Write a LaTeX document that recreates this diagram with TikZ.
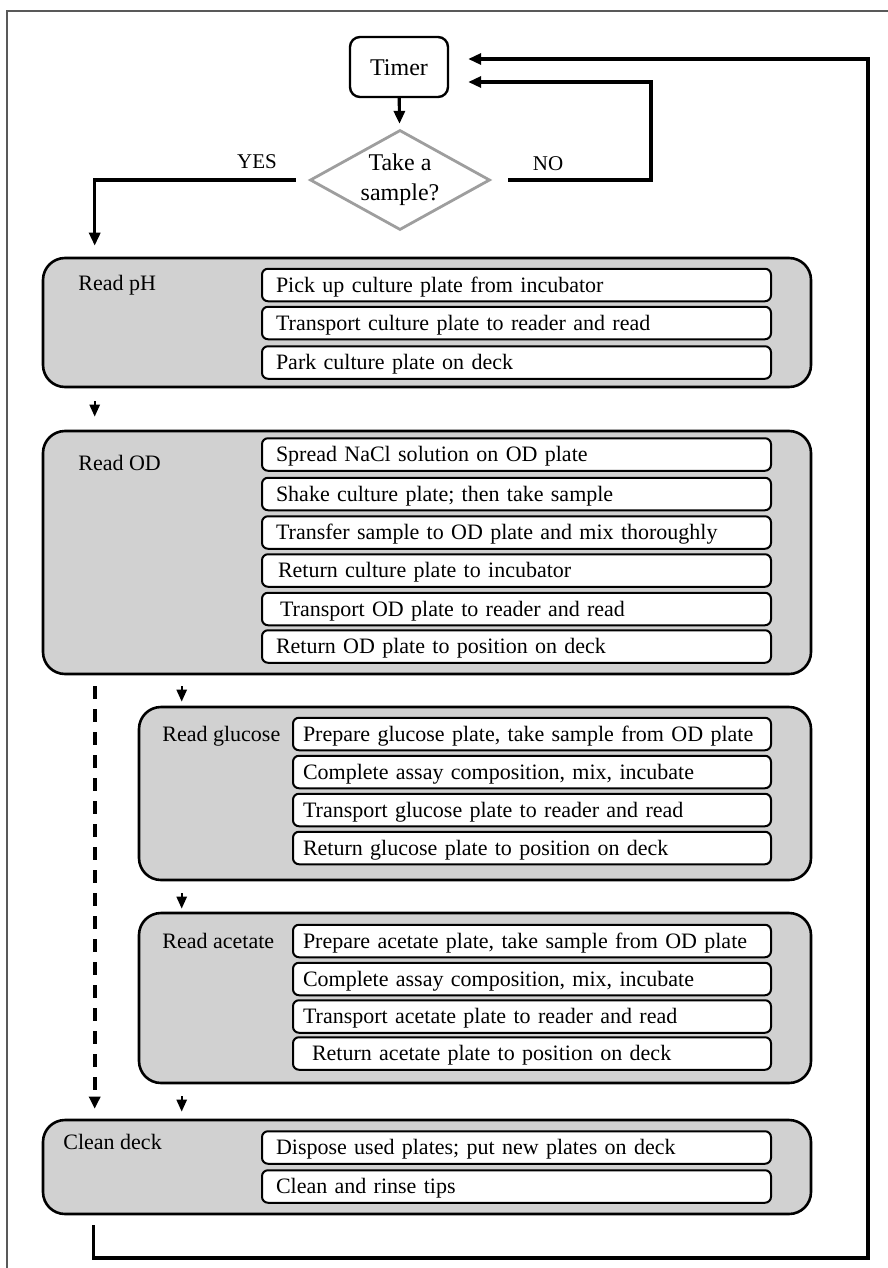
\documentclass[tikz,border=0pt]{standalone}
\usepackage{fontspec}
\setmainfont{Liberation Serif}
\usetikzlibrary{arrows.meta,shapes.geometric}
\definecolor{boxgray}{gray}{0.82}
\definecolor{diagray}{gray}{0.62}
\definecolor{framegray}{gray}{0.35}
\begin{document}
\begin{tikzpicture}[x=0.5pt,y=-0.5pt,
  stage/.style={draw, fill=boxgray, line width=1.3pt, rounded corners=11pt, inner sep=0pt},
  stepbox/.style={draw, fill=white, line width=1pt, rounded corners=3pt,
    inner ysep=0pt, minimum height=16.25pt, align=left,
    text height=9pt, text depth=1.7pt, font=\fontsize{11pt}{13pt}\selectfont},
  wide/.style={stepbox, inner xsep=7pt, text width=240.5pt},
  narrow/.style={stepbox, inner xsep=5pt, text width=229pt},
  lbl/.style={anchor=base west, inner sep=0pt, font=\fontsize{11pt}{13pt}\selectfont},
  yn/.style={anchor=base, inner sep=0pt, font=\fontsize{10.5pt}{12pt}\selectfont},
  conn/.style={line width=1.6pt, -{Triangle[length=6.5pt,width=5.5pt]}},
  shortarr/.style={line width=1.2pt, -{Triangle[length=6pt,width=5pt]}},
  dasharr/.style={line width=1.9pt, dash pattern=on 6.5pt off 5pt, -{Triangle[length=6pt,width=5.5pt]}},
]
\useasboundingbox (0,0) rectangle (888,1268);
% outer frame
\draw[framegray, line width=1.2pt] (7,1268) -- (7,11) -- (888,11);

% timer and decision
\node[draw, line width=1.2pt, rounded corners=5pt, minimum width=49pt, minimum height=30pt,
  inner sep=0pt, text height=8.5pt, text depth=0pt, font=\fontsize{12pt}{14pt}\selectfont]
  (timer) at (399,67) {Timer};
\node[diamond, draw=diagray, line width=1.4pt, aspect=1.8, minimum width=90pt, minimum height=50pt,
  inner sep=0pt, align=center, font=\fontsize{12pt}{15pt}\selectfont]
  (dia) at (400,180) {Take a\\sample?};
\node[yn] (yes) at (257,168) {YES};
\node[yn] (no) at (548,170) {NO};

% stage boxes
\node[stage, minimum width=384pt, minimum height=64.5pt] (ph) at (427,322.5) {};
\node[stage, minimum width=384pt, minimum height=121.5pt] (od) at (427,552.5) {};
\node[stage, minimum width=336pt, minimum height=86.5pt] (gl) at (475,793.5) {};
\node[stage, minimum width=336pt, minimum height=85pt] (ac) at (475,998) {};
\node[stage, minimum width=384pt, minimum height=47pt] (cl) at (427,1167) {};

% stage labels
\node[lbl] (lph) at (78,290) {Read pH};
\node[lbl] (lod) at (78,470) {Read OD};
\node[lbl] (lgl) at (162,741) {Read glucose};
\node[lbl] (lac) at (162,948) {Read acetate};
\node[lbl] (lcl) at (63,1149) {Clean deck};

% steps: Read pH
\node[wide] (ph1) at (516.5,285) {Pick up culture plate from incubator};
\node[wide] (ph2) at (516.5,323) {Transport culture plate to reader and read};
\node[wide] (ph3) at (516.5,362.5) {Park culture plate on deck};
% steps: Read OD
\node[wide] (od1) at (516.5,454.5) {Spread NaCl solution on OD plate};
\node[wide] (od2) at (516.5,494) {Shake culture plate; then take sample};
\node[wide] (od3) at (516.5,532.5) {Transfer sample to OD plate and mix thoroughly};
\node[wide] (od4) at (516.5,570.5) {\hspace*{1pt}Return culture plate to incubator};
\node[wide] (od5) at (516.5,609) {\hspace*{2pt}Transport OD plate to reader and read};
\node[wide] (od6) at (516.5,646.5) {Return OD plate to position on deck};
% steps: Read glucose
\node[narrow] (gl1) at (532,734) {Prepare glucose plate, take sample from OD plate};
\node[narrow] (gl2) at (532,772) {Complete assay composition, mix, incubate};
\node[narrow] (gl3) at (532,810) {Transport glucose plate to reader and read};
\node[narrow] (gl4) at (532,848) {Return glucose plate to position on deck};
% steps: Read acetate
\node[narrow] (ac1) at (532,941) {Prepare acetate plate, take sample from OD plate};
\node[narrow] (ac2) at (532,979) {Complete assay composition, mix, incubate};
\node[narrow] (ac3) at (532,1016.5) {Transport acetate plate to reader and read};
\node[narrow] (ac4) at (532,1053.5) {\hspace*{4.5pt}Return acetate plate to position on deck};
% steps: Clean deck
\node[wide] (cl1) at (516.5,1147.5) {Dispose used plates; put new plates on deck};
\node[wide] (cl2) at (516.5,1186.5) {Clean and rinse tips};

% connectors
\coordinate (noTurn) at (651,180);
\coordinate (loopBR) at (868,1258);
\draw[conn, shorten >=2.5pt] (timer) -- (dia);
\draw[conn, shorten <=8.5pt, shorten >=9.5pt] (dia.east) -- (noTurn) |- ([yshift=-7.5pt]timer.east);
\draw[conn, shorten <=6.5pt, shorten >=5.5pt] (dia.west) -| ([xshift=26.5pt]ph.north west);
\draw[shortarr, shorten <=6.5pt, shorten >=6.5pt] ([xshift=26.5pt]ph.south west) -- ([xshift=26.5pt]od.north west);
\draw[dasharr, shorten <=5.5pt, shorten >=5pt] ([xshift=26.5pt]od.south west) -- ([xshift=26.5pt]cl.north west);
\draw[shortarr, shorten <=5.5pt, shorten >=2pt] ([xshift=70pt]od.south west) -- ([xshift=22pt]gl.north west);
\draw[shortarr, shorten <=6pt, shorten >=1.5pt] ([xshift=22pt]gl.south west) -- ([xshift=22pt]ac.north west);
\draw[shortarr, shorten <=6pt, shorten >=3.5pt] ([xshift=22pt]ac.south west) -- ([xshift=70pt]cl.north west);
\draw[conn, shorten <=5pt, shorten >=9.5pt] ([xshift=26pt]cl.south west) |- (loopBR) |- ([yshift=4pt]timer.east);
\end{tikzpicture}
\end{document}
